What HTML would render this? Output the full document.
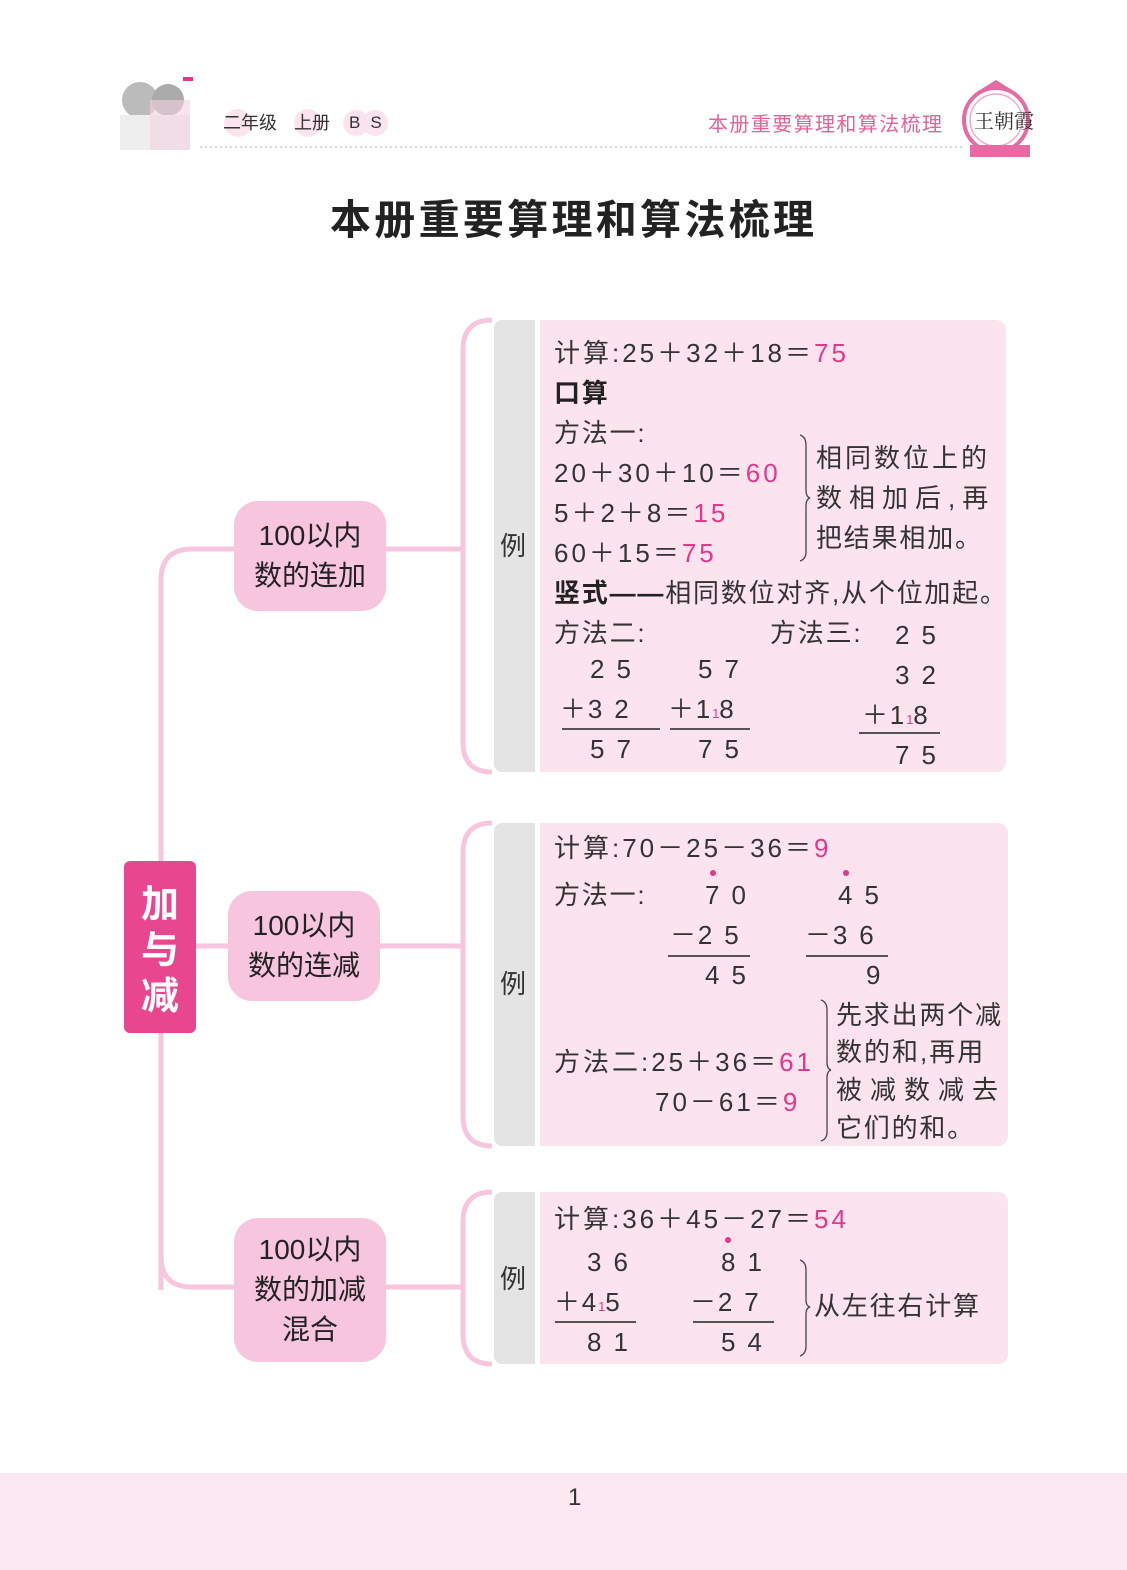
<!DOCTYPE html>
<html><head><meta charset="utf-8"><style>
body{margin:0;width:1127px;height:1570px;position:relative;background:#fff;font-family:"Liberation Sans","Noto Sans CJK SC",sans-serif;color:#333;overflow:hidden}
.t{position:absolute;font-size:26px;line-height:26px;white-space:nowrap;letter-spacing:1.8px}
.m{letter-spacing:3px}
.r{color:#e3378a}
.d{letter-spacing:12px}
.s{font-size:13px;color:#e3378a;letter-spacing:0}
.b{font-weight:bold;color:#222}
.ln{position:absolute;height:1.5px;background:#555}
.dot{position:absolute;width:6px;height:6px;border-radius:3px;background:#e3378a}
.box{position:absolute;background:#fce4ef;border-radius:10px}
.gray{position:absolute;background:#e4e4e4;border-radius:8px 0 0 8px}
.node{position:absolute;background:#f8c5de;border-radius:24px;font-size:28px;line-height:40px;text-align:center;color:#222;display:flex;align-items:center;justify-content:center}
</style></head><body>
<!-- header -->
<svg style="position:absolute;left:0;top:0" width="1127" height="170">
<circle cx="140" cy="100" r="18" fill="#bbb"/><circle cx="168" cy="100" r="16" fill="#aaa"/>
<rect x="120" y="115" width="70" height="35" fill="#eee"/><rect x="150" y="100" width="40" height="50" fill="#f4d2e0" opacity=".6"/>
<rect x="183" y="77" width="10" height="4" fill="#e3378a"/>
<circle cx="238" cy="123" r="14" fill="#fce4ef"/><circle cx="308" cy="123" r="14" fill="#fce4ef"/><circle cx="356" cy="123" r="13" fill="#fce4ef"/><circle cx="375" cy="123" r="13" fill="#fce4ef"/>
<line x1="200" y1="147" x2="962" y2="147" stroke="#ccc" stroke-width="1.5" stroke-dasharray="2 3"/>
<circle cx="996" cy="120" r="32" fill="#fff" stroke="#e66aa3" stroke-width="4"/>
<circle cx="996" cy="120" r="26" fill="#fff" stroke="#f2a9c9" stroke-width="1.5"/>
<rect x="970" y="145" width="60" height="12" fill="#e66aa3"/>
<polygon points="980,90 996,80 1012,90" fill="#e66aa3"/>
</svg>
<div class="t" style="left:223px;top:113px;font-size:18px;line-height:20px;letter-spacing:0">二年级</div>
<div class="t" style="left:294px;top:113px;font-size:18px;line-height:20px;letter-spacing:0">上册</div>
<div class="t" style="left:349px;top:113px;font-size:17px;line-height:20px;letter-spacing:10px">BS</div>
<div class="t" style="left:708px;top:114px;font-size:20px;line-height:22px;color:#e4619a;letter-spacing:1.4px">本册重要算理和算法梳理</div>
<div class="t" style="left:974px;top:109px;font-size:20px;line-height:22px;color:#333;letter-spacing:0;font-family:'Noto Serif CJK SC',serif">王朝霞</div>
<div class="t" style="left:330px;top:198px;font-size:41px;line-height:44px;font-weight:bold;color:#222;letter-spacing:3.3px">本册重要算理和算法梳理</div>

<!-- connectors -->
<svg style="position:absolute;left:0;top:0" width="1127" height="1470">
<g fill="none" stroke="#f8c5de" stroke-width="5">
<path d="M161,1290 L161,580 Q161,549 192,549 L463,549"/>
<path d="M161,1256 Q161,1287 192,1287 L463,1287"/>
<path d="M196,946 L463,946"/>
<path d="M492,320 Q463,320 463,350 L463,742 Q463,772 492,772"/>
<path d="M492,823 Q463,823 463,853 L463,1116 Q463,1146 492,1146"/>
<path d="M492,1192 Q463,1192 463,1222 L463,1334 Q463,1364 492,1364"/>
</g>
</svg>

<div style="position:absolute;left:124px;top:861px;width:72px;height:172px;background:#e8478f;border-radius:6px;color:#fff;font-weight:bold;font-size:38px;line-height:46px;text-align:center;display:flex;align-items:center;justify-content:center;font-family:'Noto Sans CJK SC',sans-serif">加<br>与<br>减</div>
<div class="node" style="left:234px;top:501px;width:152px;height:110px">100以内<br>数的连加</div>
<div class="node" style="left:228px;top:891px;width:152px;height:110px">100以内<br>数的连减</div>
<div class="node" style="left:234px;top:1218px;width:152px;height:144px">100以内<br>数的加减<br>混合</div>

<!-- boxes -->
<div class="gray" style="left:494px;top:320px;width:41px;height:452px"></div>
<div class="box" style="left:540px;top:320px;width:466px;height:452px;border-radius:0 10px 10px 0"></div>
<div class="gray" style="left:494px;top:823px;width:41px;height:323px"></div>
<div class="box" style="left:540px;top:823px;width:468px;height:323px;border-radius:0 10px 10px 0"></div>
<div class="gray" style="left:494px;top:1192px;width:41px;height:172px"></div>
<div class="box" style="left:540px;top:1192px;width:468px;height:172px;border-radius:0 10px 10px 0"></div>

<svg style="position:absolute;left:0;top:0" width="1127" height="1470">
<g fill="none" stroke="#444" stroke-width="1.3">
<path d="M800,435 Q806,437 806,445 L806,490 Q806,497 810,498 Q806,499 806,506 L806,552 Q806,559 800,561"/>
<path d="M821,1000 Q827,1002 827,1010 L827,1062 Q827,1069 831,1070 Q827,1071 827,1078 L827,1132 Q827,1139 821,1141"/>
<path d="M800,1260 Q806,1262 806,1270 L806,1300 Q806,1306 810,1307 Q806,1308 806,1314 L806,1346 Q806,1354 800,1356"/>
</g>
</svg>

<!-- box 1 -->
<div class="t" style="left:500px;top:533px">例</div>
<div class="t m" style="left:554px;top:340px">计算:25＋32＋18＝<span class="r">75</span></div>
<div class="t b" style="left:554px;top:380px">口算</div>
<div class="t" style="left:554px;top:420px">方法一:</div>
<div class="t m" style="left:554px;top:460px">20＋30＋10＝<span class="r">60</span></div>
<div class="t m" style="left:554px;top:500px">5＋2＋8＝<span class="r">15</span></div>
<div class="t m" style="left:554px;top:540px">60＋15＝<span class="r">75</span></div>
<div class="t" style="left:816px;top:445px;letter-spacing:3px">相同数位上的</div>
<div class="t" style="left:816px;top:485px;letter-spacing:7px">数相加后,再</div>
<div class="t" style="left:816px;top:525px">把结果相加。</div>
<div class="t" style="left:554px;top:580px"><span class="b">竖式——</span>相同数位对齐,从个位加起。</div>
<div class="t" style="left:554px;top:620px">方法二:</div>
<div class="t" style="left:770px;top:620px">方法三:</div>
<div class="t d" style="left:895px;top:622px">25</div>
<div class="t d" style="left:590px;top:656px">25</div>
<div class="t" style="left:560px;top:696px">＋<span class="d">3</span>2</div>
<div class="ln" style="left:562px;top:728px;width:98px"></div>
<div class="t d" style="left:590px;top:736px">57</div>
<div class="t d" style="left:698px;top:656px">57</div>
<div class="t" style="left:668px;top:696px">＋1<span class="s">1</span>8</div>
<div class="ln" style="left:670px;top:728px;width:80px"></div>
<div class="t d" style="left:698px;top:736px">75</div>
<div class="t d" style="left:895px;top:662px">32</div>
<div class="t" style="left:862px;top:702px">＋1<span class="s">1</span>8</div>
<div class="ln" style="left:859px;top:732px;width:81px"></div>
<div class="t d" style="left:895px;top:742px">75</div>

<!-- box 2 -->
<div class="t" style="left:500px;top:971px">例</div>
<div class="t m" style="left:554px;top:835px">计算:70－25－36＝<span class="r">9</span></div>
<div class="t" style="left:554px;top:882px">方法一:</div>
<div class="dot" style="left:710px;top:870px"></div>
<div class="dot" style="left:843px;top:870px"></div>
<div class="t d" style="left:705px;top:882px">70</div>
<div class="t d" style="left:838px;top:882px">45</div>
<div class="t" style="left:670px;top:922px">－<span class="d">2</span>5</div>
<div class="t" style="left:805px;top:922px">－<span class="d">3</span>6</div>
<div class="ln" style="left:668px;top:955px;width:82px"></div>
<div class="ln" style="left:806px;top:955px;width:82px"></div>
<div class="t d" style="left:705px;top:962px">45</div>
<div class="t" style="left:866px;top:962px">9</div>
<div class="t m" style="left:554px;top:1049px">方法二:25＋36＝<span class="r">61</span></div>
<div class="t m" style="left:655px;top:1089px">70－61＝<span class="r">9</span></div>
<div class="t" style="left:836px;top:1002px">先求出两个减</div>
<div class="t" style="left:836px;top:1039px;letter-spacing:2px">数的和,再用</div>
<div class="t" style="left:836px;top:1077px;letter-spacing:8px">被减数减去</div>
<div class="t" style="left:836px;top:1115px">它们的和。</div>

<!-- box 3 -->
<div class="t" style="left:500px;top:1266px">例</div>
<div class="t m" style="left:554px;top:1206px">计算:36＋45－27＝<span class="r">54</span></div>
<div class="t d" style="left:587px;top:1249px">36</div>
<div class="t" style="left:554px;top:1289px">＋4<span class="s">1</span>5</div>
<div class="ln" style="left:555px;top:1321px;width:81px"></div>
<div class="t d" style="left:587px;top:1329px">81</div>
<div class="dot" style="left:725px;top:1237px"></div>
<div class="t d" style="left:721px;top:1249px">81</div>
<div class="t" style="left:690px;top:1289px">－<span class="d">2</span>7</div>
<div class="ln" style="left:693px;top:1321px;width:81px"></div>
<div class="t d" style="left:721px;top:1329px">54</div>
<div class="t" style="left:814px;top:1293px">从左往右计算</div>

<!-- footer -->
<div style="position:absolute;left:0;top:1473px;width:1127px;height:97px;background:#fce8f1"></div>
<div class="t" style="left:568px;top:1485px;font-size:24px">1</div>
</body></html>
